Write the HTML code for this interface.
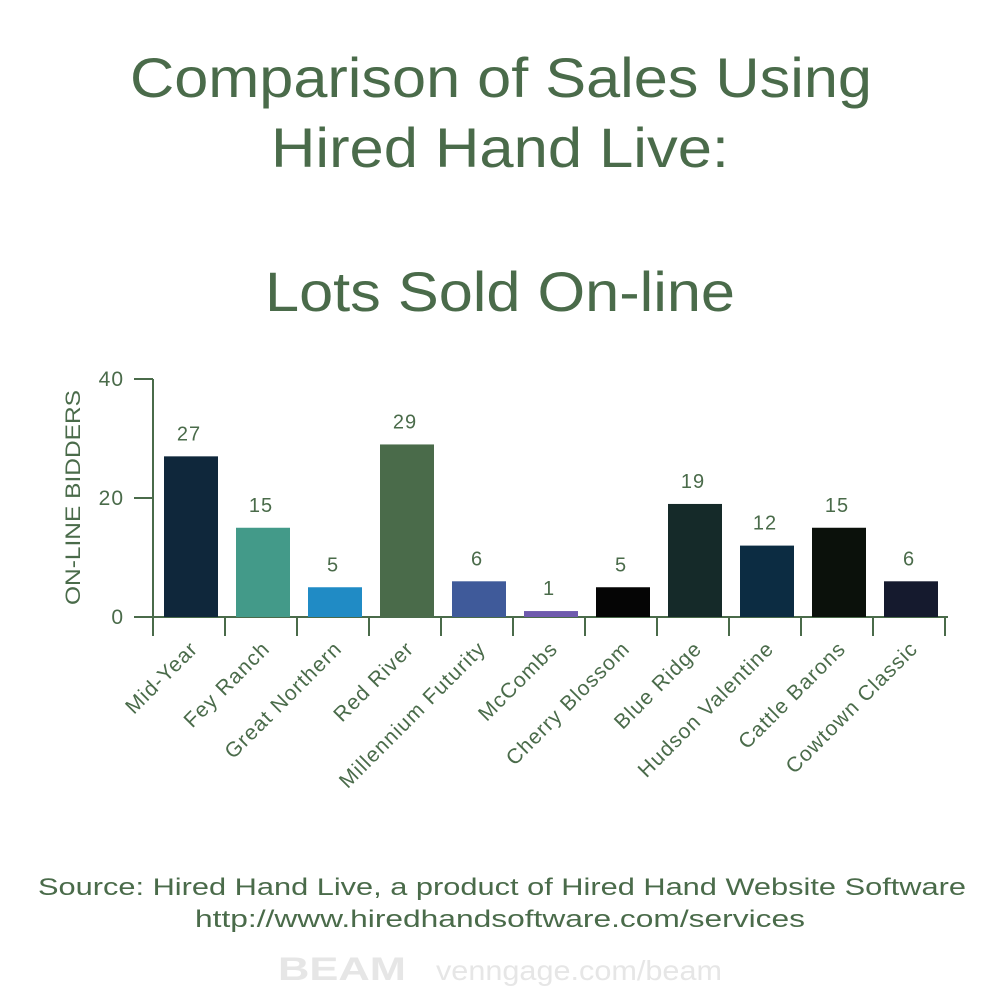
<!DOCTYPE html>
<html><head><meta charset="utf-8"><style>
body{margin:0;background:#fff;}
svg text{font-family:"Liberation Sans",sans-serif;fill:#4a6b4a;}
</style></head><body>
<svg width="1000" height="1000">
<text x="130" y="97" font-size="56" textLength="742" lengthAdjust="spacingAndGlyphs">Comparison of Sales Using</text>
<text x="271" y="167" font-size="56" textLength="458" lengthAdjust="spacingAndGlyphs">Hired Hand Live:</text>
<text x="265" y="311" font-size="56" textLength="470" lengthAdjust="spacingAndGlyphs">Lots Sold On-line</text>
<text transform="translate(80,605) rotate(-90)" font-size="21" textLength="215" lengthAdjust="spacingAndGlyphs">ON-LINE BIDDERS</text>
<g id="plot"></g>
<text x="38" y="895" font-size="24" textLength="928" lengthAdjust="spacingAndGlyphs">Source: Hired Hand Live, a product of Hired Hand Website Software</text>
<text x="195" y="927" font-size="24" textLength="610" lengthAdjust="spacingAndGlyphs">http://www.hiredhandsoftware.com/services</text>
<text x="278" y="980" font-size="32" font-weight="bold" textLength="128" lengthAdjust="spacingAndGlyphs" style="fill:#e6e6e6">BEAM</text>
<text x="436" y="980" font-size="28" textLength="286" lengthAdjust="spacingAndGlyphs" style="fill:#e6e6e6">venngage.com/beam</text>
</svg>
<script>
const categories=["Mid-Year","Fey Ranch","Great Northern","Red River","Millennium Futurity","McCombs","Cherry Blossom","Blue Ridge","Hudson Valentine","Cattle Barons","Cowtown Classic"];
const values=[27,15,5,29,6,1,5,19,12,15,6];
const colors=["#0f273b","#439a89","#208bc5","#4a6b4a","#3f5a9a","#6e5aad","#050505","#152a29","#0c2c42","#0b110b","#151a2e"];
const yTicks=[0,20,40];
const NS="http://www.w3.org/2000/svg";
const g=document.getElementById('plot');
const x0=153,step=72,y0=617,yTop=379,ymax=40;
const y=v=>y0-(v/ymax)*(y0-yTop);
function mk(t,a){const e=document.createElementNS(NS,t);for(const k in a)e.setAttribute(k,a[k]);g.appendChild(e);return e;}
const axisColor="#4a6b4a";
mk('line',{x1:x0,y1:yTop,x2:x0,y2:y0,stroke:axisColor,'stroke-width':2});
const xEnd=x0+step*categories.length+3;
mk('line',{x1:134,y1:y0,x2:xEnd,y2:y0,stroke:axisColor,'stroke-width':2});
yTicks.forEach(t=>{
 const l=mk('line',{x1:134,y1:y(t),x2:x0,y2:y(t),stroke:axisColor,'stroke-width':2});
 
 
 const tx=mk('text',{x:124,y:y(t)+7,'font-size':21,'text-anchor':'end','letter-spacing':1});tx.textContent=t;
 
 
});
for(let i=0;i<=categories.length;i++){
 const l=mk('line',{x1:x0+i*step,y1:y0,x2:x0+i*step,y2:636,stroke:axisColor,'stroke-width':2});
 
 
}
categories.forEach((c,i)=>{
 const bx=x0+i*step+11,cx=x0+i*step+step/2;
 const r=mk('rect',{x:bx,y:y(values[i]),width:54,height:y0-y(values[i]),fill:colors[i]});
 
 
 const v=mk('text',{x:cx,y:y(values[i])-16,'font-size':20,'text-anchor':'middle','letter-spacing':1});v.textContent=values[i];
 
 
 const lb=mk('text',{transform:`translate(${cx+10},${650}) rotate(-45)`,'font-size':21,'text-anchor':'end','letter-spacing':1.1});lb.textContent=c;
 
 
});
</script>
</body></html>
